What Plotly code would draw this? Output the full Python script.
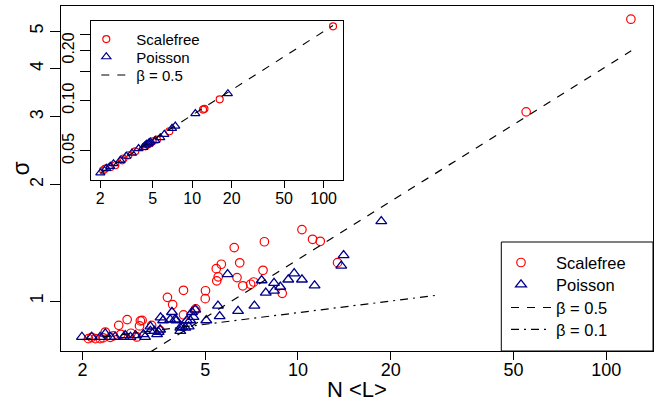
import plotly.graph_objects as go
import numpy as np

# ---------------- data ----------------
# main panel: Scalefree networks
sf_x = [120.3, 55.0, 10.30, 11.15, 11.81, 7.78, 6.21, 6.47, 5.64, 5.43, 7.70, 6.34, 5.51,
        5.45, 7.18, 7.02, 6.62, 4.25, 5.01, 5.00, 3.77, 3.92, 13.44, 8.89, 4.66, 4.63, 4.25,
        2.79, 3.08, 2.62, 3.06, 3.35, 2.37, 3.00, 2.09, 2.20, 2.28, 2.14, 2.46, 2.66, 2.87,
        3.12, 3.57, 2.33, 2.52]
sf_y = [5.37, 3.09, 1.531, 1.445, 1.428, 1.424, 1.375, 1.256, 1.245, 1.213, 1.201, 1.150, 1.155,
        1.128, 1.120, 1.105, 1.095, 1.066, 1.063, 1.014, 1.022, 0.979, 1.257, 1.047, 0.954, 0.945, 0.921,
        0.895, 0.888, 0.865, 0.862, 0.865, 0.831, 0.807, 0.799, 0.799, 0.799, 0.805, 0.805, 0.820, 0.825,
        0.891, 0.838, 0.803, 0.812]

# main panel: Poisson networks
po_x = [18.63, 14.06, 13.82, 9.72, 5.91, 9.30, 10.30, 7.62, 8.36, 11.32, 8.76, 8.36, 7.86,
        7.22, 5.50, 6.39, 5.57, 5.04, 4.64, 4.53, 4.58, 4.36, 3.90, 4.03, 3.65, 3.58, 4.15,
        4.31, 3.32, 3.42, 3.15, 3.49, 4.15, 1.99, 2.14, 2.28, 2.37, 2.46, 2.55, 2.72, 2.75,
        2.86, 2.97, 3.19, 3.32, 3.57, 3.85, 3.99, 4.47, 4.21, 4.42, 3.53]
po_y = [1.609, 1.314, 1.234, 1.179, 1.173, 1.136, 1.136, 1.131, 1.113, 1.097, 1.088, 1.063, 1.050,
        0.972, 0.972, 0.942, 0.913, 0.891, 0.950, 0.936, 0.909, 0.891, 0.936, 0.891, 0.891, 0.906, 0.853,
        0.853, 0.859, 0.836, 0.820, 0.820, 0.836, 0.807, 0.807, 0.807, 0.823, 0.807, 0.807, 0.807, 0.815,
        0.807, 0.815, 0.807, 0.836, 0.843, 0.895, 0.895, 0.891, 0.856, 0.859, 0.831]

# inset
in_sf_x = [118, 16.2, 12.1, 12.4, 6.70, 5.40, 4.80, 4.40, 3.69, 3.27, 2.93, 2.60, 2.38, 2.18,
           2.10, 5.0, 4.6, 3.0]
in_sf_y = [0.2785, 0.1018, 0.0883, 0.0893, 0.0655, 0.0584, 0.0555, 0.0532, 0.0497, 0.0470,
           0.0439, 0.0410, 0.0399, 0.0391, 0.0382, 0.0570, 0.0545, 0.0450]
in_po_x = [18.7, 10.57, 7.44, 7.03, 6.14, 5.72, 5.24, 4.80, 4.64, 4.40, 4.25, 3.91, 3.48, 3.15,
           2.84, 2.52, 2.38, 2.22, 2.0, 4.5, 4.7]
in_po_y = [0.110, 0.0836, 0.0704, 0.0682, 0.0628, 0.0600, 0.0578, 0.0565, 0.0551, 0.0540, 0.0525,
           0.0516, 0.0485, 0.0464, 0.0439, 0.0419, 0.0404, 0.0393, 0.0369, 0.0548, 0.0560]

# reference power laws  sigma = c * x^beta
beta_main = [0.5, 0.1]
coef_main = [0.405, 0.741]
xspan_main = [[2.0, 120.6], [2.0, 28.3]]
beta_inset = 0.5
coef_inset = 0.0259
xspan_inset = [2.0, 118.0]

x_ticks = [2, 5, 10, 20, 50, 100]
y_ticks = [1, 2, 3, 4, 5]
in_y_ticks = [0.05, 0.10, 0.15, 0.20, 0.25]
in_y_text = ["0.05", "0.10", "", "0.20", ""]

RED = "#FF0000"
BLUE = "#00008B"
FONT = "Liberation Sans, Arial, sans-serif"

# plot-area geometry in pixels (for legend placement)
W, H = 667, 409
ML, MR, MT, MB = 60.7, 14.3, 5.7, 58.3
PW, PH = W - ML - MR, H - MT - MB


def px2paper(px, py):
    return (px - ML) / PW, (H - MB - py) / PH


fig = go.Figure()

# ---- main panel ----
fig.add_trace(go.Scatter(x=sf_x, y=sf_y, mode="markers", name="Scalefree",
                         marker=dict(symbol="circle-open", size=8.5, color=RED, line=dict(width=1.2)),
                         xaxis="x", yaxis="y", legend="legend"))
fig.add_trace(go.Scatter(x=po_x, y=po_y, mode="markers", name="Poisson",
                         marker=dict(symbol="triangle-up-open", size=9.5, color=BLUE, line=dict(width=1.3)),
                         xaxis="x", yaxis="y", legend="legend2"))
dashes = ["8px,8px", "8px,5px,2px,5px"]
names = ["β = 0.5", "β = 0.1"]
for b, c, xs, d, n, lg in zip(beta_main, coef_main, xspan_main, dashes, names, ["legend3", "legend4"]):
    xx = np.array(xs)
    fig.add_trace(go.Scatter(x=xx, y=c * xx ** b, mode="lines", name=n,
                             line=dict(color="black", width=1.2, dash=d),
                             xaxis="x", yaxis="y", legend=lg))

# ---- inset ----
fig.add_trace(go.Scatter(x=in_sf_x, y=in_sf_y, mode="markers", name="Scalefree",
                         marker=dict(symbol="circle-open", size=7, color=RED, line=dict(width=1.2)),
                         xaxis="x2", yaxis="y2", legend="legend5"))
fig.add_trace(go.Scatter(x=in_po_x, y=in_po_y, mode="markers", name="Poisson",
                         marker=dict(symbol="triangle-up-open", size=8, color=BLUE, line=dict(width=1.2)),
                         xaxis="x2", yaxis="y2", legend="legend6"))
xx = np.array(xspan_inset)
fig.add_trace(go.Scatter(x=xx, y=coef_inset * xx ** beta_inset, mode="lines", name="β = 0.5",
                         line=dict(color="black", width=1.1, dash="8px,8px"),
                         xaxis="x2", yaxis="y2", legend="legend7"))

axis_common = dict(type="log", showgrid=False, zeroline=False, showline=True, linecolor="black",
                   linewidth=1, mirror=True, ticks="outside", tickcolor="black", tickwidth=1)


def one_legend(text_px, row_py, itemwidth, size):
    # text starts at legend-left + itemwidth + 10
    left = text_px - itemwidth - 10
    x, y = px2paper(left, row_py)
    return dict(x=x, y=y, xanchor="left", yanchor="middle", bgcolor="rgba(0,0,0,0)",
                borderwidth=0, font=dict(size=size), itemwidth=itemwidth, tracegroupgap=0)


legends = dict(
    legend=one_legend(555.7, 262.5, 60, 16.5),
    legend2=one_legend(555.7, 284.5, 60, 16.5),
    legend3=one_legend(555.7, 307.5, 40, 16.5),
    legend4=one_legend(555.7, 329.3, 40, 16.5),
    legend5=one_legend(136.0, 39.0, 50, 15),
    legend6=one_legend(136.0, 56.7, 50, 15),
    legend7=one_legend(136.0, 75.0, 30, 15),
)

bx0, by1 = px2paper(501, 241.7)

fig.update_layout(
    width=W, height=H,
    margin=dict(l=ML, r=MR, t=MT, b=MB, pad=0),
    paper_bgcolor="white", plot_bgcolor="white",
    font=dict(family=FONT, color="black"),
    xaxis=dict(**axis_common, range=[np.log10(1.702), np.log10(141.9)], tickvals=x_ticks,
               ticktext=[str(v) for v in x_ticks], ticklen=8, tickfont=dict(size=18),
               ticklabelstandoff=-6, domain=[0, 1]),
    yaxis=dict(**axis_common, range=[-0.1295, 0.7642], tickvals=y_ticks,
               ticktext=[str(v) for v in y_ticks], ticklen=10, tickangle=-90, tickfont=dict(size=18),
               domain=[0, 1]),
    xaxis2=dict(**axis_common, anchor="y2", domain=[0.0512, 0.4764],
                range=[np.log10(1.708), np.log10(140.6)], tickvals=x_ticks,
                ticktext=[str(v) for v in x_ticks], ticklen=7, tickfont=dict(size=16),
                ticklabelstandoff=-3),
    yaxis2=dict(**axis_common, anchor="x2", domain=[0.4948, 0.9565],
                range=[-1.4774, -0.5236], tickvals=in_y_ticks, ticktext=in_y_text,
                ticklen=10, tickangle=-90, tickfont=dict(size=16)),
    shapes=[dict(type="rect", xref="paper", yref="paper", x0=bx0, x1=1.0, y0=0, y1=by1,
                 line=dict(color="black", width=1), fillcolor="rgba(0,0,0,0)", layer="above")],
    annotations=[
        dict(text="N &lt;L&gt;", xref="paper", yref="paper", x=px2paper(356.7, 0)[0],
             y=px2paper(0, 389)[1], xanchor="center", yanchor="middle", showarrow=False,
             font=dict(size=22)),
        dict(text="σ", xref="paper", yref="paper", x=px2paper(21, 0)[0], y=px2paper(0, 168)[1],
             xanchor="center", yanchor="middle", showarrow=False, textangle=-90,
             font=dict(size=23)),
    ],
    showlegend=True,
    **legends,
)

fig.write_html("out.html", config={"displayModeBar": False},
               post_script="document.body.style.margin='0';document.body.style.padding='0';")
